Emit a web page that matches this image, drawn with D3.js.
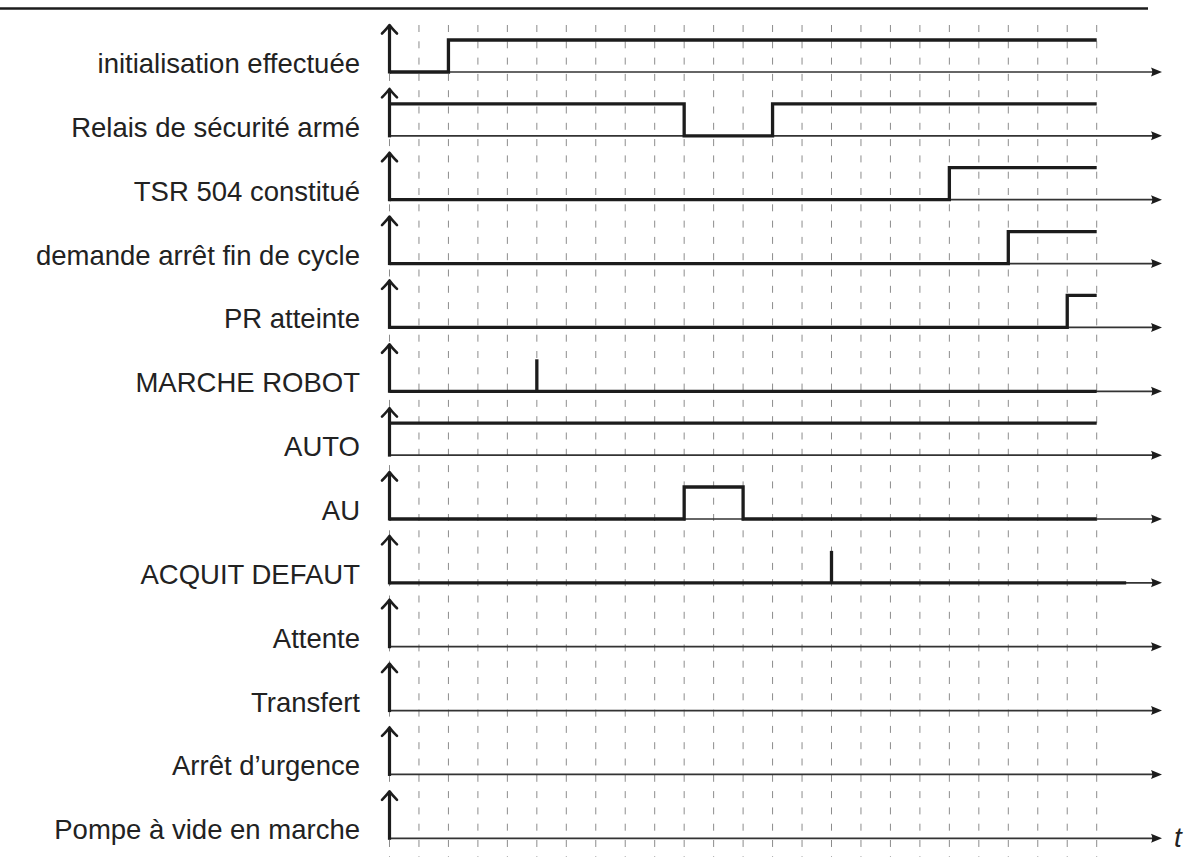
<!DOCTYPE html>
<html>
<head>
<meta charset="utf-8">
<script src="https://cdn.jsdelivr.net/npm/d3@7"></script>
<style>
  html, body { margin: 0; padding: 0; background: #fff; }
  svg { display: block; }
</style>
</head>
<body>
<svg id="chart" width="1198" height="866"></svg>
<script>
// ---- data ----
const labels = [
  "initialisation effectuée",
  "Relais de sécurité armé",
  "TSR 504 constitué",
  "demande arrêt fin de cycle",
  "PR atteinte",
  "MARCHE ROBOT",
  "AUTO",
  "AU",
  "ACQUIT DEFAUT",
  "Attente",
  "Transfert",
  "Arrêt d’urgence",
  "Pompe à vide en marche"
];
// change points: [time, level]
const initEdges    = [[0, 0], [2, 1], [24, 1]];
const relaisEdges  = [[0, 1], [10, 0], [13, 1], [24, 1]];
const tsrEdges     = [[0, 0], [19, 1], [24, 1]];
const demandeEdges = [[0, 0], [21, 1], [24, 1]];
const prEdges      = [[0, 0], [23, 1], [24, 1]];
const marcheEdges  = [[0, 0], [24, 0]];
const autoEdges    = [[0, 1], [24, 1]];
const auEdges      = [[0, 0], [10, 1], [12, 0], [24, 0]];
const acquitEdges  = [[0, 0], [25, 0]];
const marchePulses = [5];
const acquitPulses = [15];
const signalEdges  = [initEdges, relaisEdges, tsrEdges, demandeEdges, prEdges,
                      marcheEdges, autoEdges, auEdges, acquitEdges, null, null, null, null];
const signalPulses = [[], [], [], [], [], marchePulses, [], [], acquitPulses, [], [], [], []];
const gridTimes = [0,1,2,3,4,5,6,7,8,9,10,11,12,13,14,15,16,17,18,19,20,21,22,23,24];
const timeLabel = "t";

// ---- layout ----
const svg = d3.select("#chart");
const x = d3.scaleLinear().domain([0, 24]).range([389.5, 1096.7]);
const row = d3.scaleLinear().domain([0, labels.length - 1]).range([72, 838.3]);
const lvl = d3.scaleLinear().domain([0, 1]).range([0, -32]);
const axisEnd = 1162;
const arrowUp = 47;
const ink = "#1c1c1c";

// top rule
svg.append("line").attr("x1", 0).attr("x2", 1148).attr("y1", 8.5).attr("y2", 8.5)
  .attr("stroke", ink).attr("stroke-width", 2.6);

// grid
svg.append("g").selectAll("line").data(gridTimes).join("line")
  .attr("x1", d => x(d)).attr("x2", d => x(d))
  .attr("y1", 25).attr("y2", 857)
  .attr("stroke", "#8c8c8c").attr("stroke-width", 1)
  .attr("stroke-dasharray", "7 9.3");

const rows = svg.append("g").selectAll("g").data(labels).join("g")
  .attr("transform", (d, i) => `translate(0,${row(i)})`);

// labels
rows.append("text")
  .attr("x", 360).attr("y", 1)
  .attr("text-anchor", "end")
  .attr("font-family", "'Liberation Sans', Arial, sans-serif")
  .attr("font-size", 27.5)
  .attr("fill", "#222")
  .text(d => d);

// time axis
rows.append("line")
  .attr("x1", x(0)).attr("x2", axisEnd - 8)
  .attr("y1", 0).attr("y2", 0)
  .attr("stroke", "#333").attr("stroke-width", 1.7);
rows.append("path")
  .attr("d", `M${axisEnd},0 L${axisEnd - 11},-4.5 Q${axisEnd - 8.5},0 ${axisEnd - 11},4.5 Z`)
  .attr("fill", "#1c1c1c");

// signals
const line = d3.line().x(d => x(d[0])).y(d => lvl(d[1])).curve(d3.curveStepAfter);
rows.each(function(d, i) {
  const g = d3.select(this);
  const e = signalEdges[i];
  if (e) {
    g.append("path").attr("d", line(e))
      .attr("fill", "none").attr("stroke", ink).attr("stroke-width", 3.3)
      .attr("stroke-linejoin", "miter");
  }
  g.selectAll("line.pulse").data(signalPulses[i]).join("line").attr("class", "pulse")
    .attr("x1", p => x(p)).attr("x2", p => x(p))
    .attr("y1", 0).attr("y2", lvl(1))
    .attr("stroke", ink).attr("stroke-width", 3.3);
});

// vertical axis with arrow
rows.append("line")
  .attr("x1", x(0)).attr("x2", x(0))
  .attr("y1", 1.5).attr("y2", -arrowUp + 1)
  .attr("stroke", ink).attr("stroke-width", 3.2);
rows.append("path")
  .attr("d", () => {
    const x0 = x(0), t = -arrowUp;
    return `M${x0 - 7.5},${t + 8.5} Q${x0 - 2},${t + 3} ${x0},${t} Q${x0 + 2},${t + 3} ${x0 + 7.5},${t + 8.5}`;
  })
  .attr("fill", "none").attr("stroke", ink).attr("stroke-width", 2.6)
  .attr("stroke-linecap", "round").attr("stroke-linejoin", "round");

// t label
svg.append("text")
  .attr("x", 1174).attr("y", 847)
  .attr("font-family", "'Liberation Sans', Arial, sans-serif")
  .attr("font-style", "italic")
  .attr("font-size", 28)
  .attr("fill", "#222")
  .text(timeLabel);
</script>
</body>
</html>
